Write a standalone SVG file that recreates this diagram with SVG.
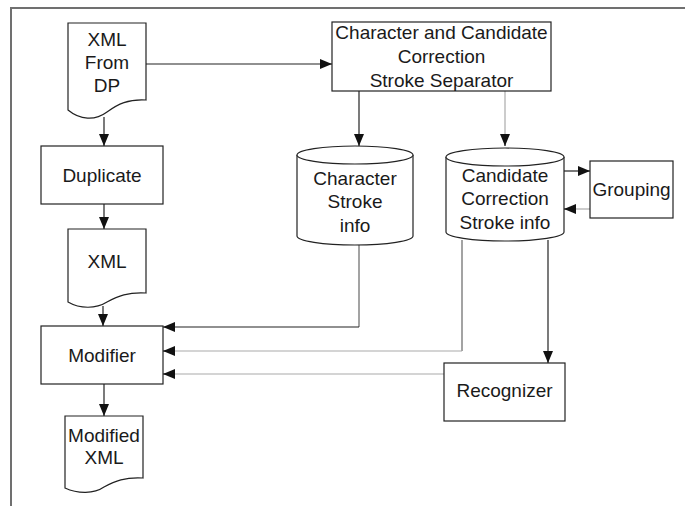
<svg xmlns="http://www.w3.org/2000/svg" width="685" height="506" viewBox="0 0 685 506">
  <style>
    .shape { fill: #ffffff; stroke: #222222; stroke-width: 1.2; }
    .label { font-family: "Liberation Sans", Arial, sans-serif; font-size: 19px; fill: #1a1a1a; text-anchor: middle; }
    .dark { fill: none; stroke: #222222; stroke-width: 1.2; }
    .mid { fill: none; stroke: #666666; stroke-width: 1.2; }
    .light { fill: none; stroke: #aaaaaa; stroke-width: 1.2; }
    .frame { fill: none; stroke: #707070; stroke-width: 2; }
  </style>
  <defs>
    <marker id="head" viewBox="0 0 12 10" refX="12" refY="5" markerWidth="12" markerHeight="10" markerUnits="userSpaceOnUse" orient="auto">
      <path d="M0,0 L12,5 L0,10 Z" fill="#111111"/>
    </marker>
  </defs>

  <rect width="685" height="506" fill="#ffffff"/>
  <!-- outer frame: top and left rules -->
  <path class="frame" d="M11,506 V8 H685"/>

  <!-- connectors -->
  <g id="connectors">
    <path class="dark" d="M146,64 H332" marker-end="url(#head)"/>
    <path class="dark" d="M104,117 V146" marker-end="url(#head)"/>
    <path class="dark" d="M104,204 V229" marker-end="url(#head)"/>
    <path class="dark" d="M103,306 V326" marker-end="url(#head)"/>
    <path class="dark" d="M104,384 V416" marker-end="url(#head)"/>
    <path class="dark" d="M359,91 V146" marker-end="url(#head)"/>
    <path class="light" d="M505,91 V134"/>
    <path class="dark" d="M505,134 V146" marker-end="url(#head)"/>
    <path class="dark" d="M564,171 H590" marker-end="url(#head)"/>
    <path class="light" d="M590,209 H576"/>
    <path class="dark" d="M576,209 H564" marker-end="url(#head)"/>
    <path class="mid" d="M359,245 V327"/>
    <path class="dark" d="M359,327 H163" marker-end="url(#head)"/>
    <path class="mid" d="M462,240 V351"/>
    <path class="light" d="M462,351 H175"/>
    <path class="dark" d="M175,351 H163" marker-end="url(#head)"/>
    <path class="dark" d="M548,240 V363" marker-end="url(#head)"/>
    <path class="light" d="M444,374 H175"/>
    <path class="dark" d="M175,374 H163" marker-end="url(#head)"/>
  </g>

  <g id="xml-from-dp">
    <path class="shape" d="M68,23 H146 V100 C128,99 118,104 107,112 C95,121 80,120 68,110 Z"/>
    <text class="label" x="107" y="46">XML</text>
    <text class="label" x="107" y="69">From</text>
    <text class="label" x="107" y="92">DP</text>
  </g>

  <g id="separator">
    <rect class="shape" x="332" y="22" width="219" height="69"/>
    <text class="label" x="441.5" y="39">Character and Candidate</text>
    <text class="label" x="441.5" y="63">Correction</text>
    <text class="label" x="441.5" y="87">Stroke Separator</text>
  </g>

  <g id="duplicate">
    <rect class="shape" x="41" y="146" width="122" height="58"/>
    <text class="label" x="102" y="182">Duplicate</text>
  </g>

  <g id="character-stroke-info">
    <path class="shape" d="M297,155 V236 A58,9 0 0 0 413,236 V155"/>
    <ellipse class="shape" cx="355" cy="155" rx="58" ry="9"/>
    <text class="label" x="355" y="185">Character</text>
    <text class="label" x="355" y="208">Stroke</text>
    <text class="label" x="355" y="232">info</text>
  </g>

  <g id="candidate-stroke-info">
    <path class="shape" d="M446,157 V232 A59,9 0 0 0 564,232 V157"/>
    <ellipse class="shape" cx="505" cy="157" rx="59" ry="9"/>
    <text class="label" x="505" y="182">Candidate</text>
    <text class="label" x="505" y="205">Correction</text>
    <text class="label" x="505" y="229">Stroke info</text>
  </g>

  <g id="grouping">
    <rect class="shape" x="590" y="161" width="83" height="57"/>
    <text class="label" x="631.5" y="196">Grouping</text>
  </g>

  <g id="xml">
    <path class="shape" d="M68,229 H146 V293 C128,292 118,296 107,302 C96,309 80,309 68,302 Z"/>
    <text class="label" x="107" y="268">XML</text>
  </g>

  <g id="modifier">
    <rect class="shape" x="41" y="326" width="122" height="58"/>
    <text class="label" x="102" y="362">Modifier</text>
  </g>

  <g id="recognizer">
    <rect class="shape" x="444" y="363" width="121" height="58"/>
    <text class="label" x="504.5" y="397">Recognizer</text>
  </g>

  <g id="modified-xml">
    <path class="shape" d="M65,416 H143 V478 C125,477 115,481 104,487 C94,494 78,494 65,488 Z"/>
    <text class="label" x="104" y="442">Modified</text>
    <text class="label" x="104" y="464">XML</text>
  </g>
</svg>
